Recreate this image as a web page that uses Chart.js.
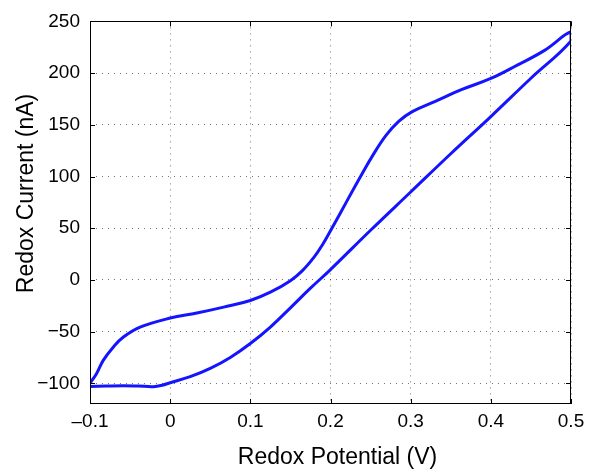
<!DOCTYPE html>
<html>
<head>
<meta charset="utf-8">
<script src="https://cdn.jsdelivr.net/npm/chart.js@4/dist/chart.umd.min.js"></script>
<style>
html,body{margin:0;padding:0;background:#fff;}
#wrap{width:596px;height:470px;position:relative;}
</style>
</head>
<body>
<div id="wrap"><canvas id="c"></canvas></div>
<script>
// Lower branch (left -> right)
const lowerPotential = [-0.1, -0.08, -0.0583, -0.04, -0.0208, -0.01, 0, 0.025, 0.05, 0.075, 0.1, 0.125, 0.15, 0.175, 0.2, 0.25, 0.3, 0.35, 0.4, 0.45, 0.5];
const lowerCurrent   = [-103, -102.6, -102.3, -102.6, -103.2, -101.8, -99.4, -93.6, -85.6, -75, -61.5, -45.6, -27, -8, 10, 48, 85, 122, 158, 195, 231];
// Upper branch (right -> left)
const upperPotential = [0.5, 0.467, 0.433, 0.4, 0.3625, 0.33, 0.302, 0.2854, 0.269, 0.252, 0.2396, 0.227, 0.2125, 0.2, 0.19, 0.18, 0.165, 0.15, 0.125, 0.1, 0.0667, 0.0333, 0, -0.0375, -0.0583, -0.0708, -0.0833, -0.0917, -0.1];
const upperCurrent   = [240, 222, 207.7, 194.8, 183.7, 172.5, 162.8, 153.5, 139.5, 119.5, 103, 85.5, 65, 47.5, 34, 22.5, 9, -0.7, -11.9, -19.9, -26.3, -32, -36.9, -45.6, -55.2, -64.8, -77.6, -90.4, -100];

const xTickValues = [-0.1, 0, 0.1, 0.2, 0.3, 0.4, 0.5];
const yTickValues = [-100, -50, 0, 50, 100, 150, 200, 250];
const xTitle = 'Redox Potential (V)';
const yTitle = 'Redox Current (nA)';

const loop = [];
lowerPotential.forEach((x, i) => loop.push({x: x, y: lowerCurrent[i]}));
upperPotential.forEach((x, i) => loop.push({x: x, y: upperCurrent[i]}));

const FONT = '"Liberation Sans", Arial, Helvetica, sans-serif';

function fmtX(v) {
  if (Math.abs(v) < 1e-9) return '0';
  const s = Math.abs(v).toFixed(1);
  return (v < 0 ? '\u2013' : '') + s;
}

const framePlugin = {
  id: 'frame',
  afterDraw(chart) {
    const ctx = chart.ctx;
    const a = chart.chartArea;
    const xs = chart.scales.x, ys = chart.scales.y;
    ctx.save();
    ctx.setLineDash([]);
    ctx.strokeStyle = '#000';
    ctx.lineWidth = 1;
    ctx.strokeRect(Math.round(a.left) + 0.5, Math.round(a.top) + 0.5, Math.round(a.right - a.left) - 1, Math.round(a.bottom - a.top) - 1);
    const L = 5;
    ctx.beginPath();
    xTickValues.forEach(v => {
      const px = Math.round(xs.getPixelForValue(v)) + 0.5;
      ctx.moveTo(px, a.bottom); ctx.lineTo(px, a.bottom - L);
      ctx.moveTo(px, a.top); ctx.lineTo(px, a.top + L);
    });
    yTickValues.forEach(v => {
      const py = Math.round(ys.getPixelForValue(v)) + 0.5;
      ctx.moveTo(a.left, py); ctx.lineTo(a.left + L, py);
      ctx.moveTo(a.right, py); ctx.lineTo(a.right - L, py);
    });
    ctx.stroke();
    // axis titles
    ctx.fillStyle = '#000';
    ctx.font = '23px ' + FONT;
    ctx.textAlign = 'center';
    ctx.textBaseline = 'alphabetic';
    ctx.fillText(xTitle, 337.5, 464);
    ctx.translate(33, 193.5);
    ctx.rotate(-Math.PI / 2);
    ctx.fillText(yTitle, 0, 0);
    ctx.restore();
  }
};

new Chart(document.getElementById('c'), {
  type: 'scatter',
  data: {
    datasets: [{
      data: loop,
      showLine: true,
      borderColor: '#1414ff',
      borderWidth: 3,
      pointRadius: 0,
      tension: 0.4,
      fill: false
    }]
  },
  options: {
    responsive: true,
    maintainAspectRatio: false,
    animation: false,
    layout: {padding: {left: 0, top: 19, right: 25, bottom: 0}},
    plugins: {legend: {display: false}, tooltip: {enabled: false}},
    scales: {
      x: {
        type: 'linear',
        min: -0.1, max: 0.5,
        afterBuildTicks(s) { s.ticks = xTickValues.map(v => ({value: v})); },
        afterFit(s) { s.height = 66; },
        grid: {color: 'rgba(0,0,0,0.55)', lineWidth: 1, drawTicks: false},
        border: {display: false, dash: [1, 5]},
        ticks: {
          color: '#000', padding: 6,
          font: {family: FONT, size: 19},
          maxRotation: 0, autoSkip: false,
          callback: v => fmtX(v)
        }
      },
      y: {
        type: 'linear',
        min: -120, max: 250,
        afterBuildTicks(s) { s.ticks = yTickValues.map(v => ({value: v})); },
        afterFit(s) { s.width = 90; },
        grid: {color: 'rgba(0,0,0,0.55)', lineWidth: 1, drawTicks: false},
        border: {display: false, dash: [1, 5]},
        ticks: {
          color: '#000', padding: 10,
          font: {family: FONT, size: 19},
          autoSkip: false,
          callback: v => (v < 0 ? '\u2212' + Math.abs(v) : String(v))
        }
      }
    }
  },
  plugins: [framePlugin]
});
</script>
</body>
</html>
